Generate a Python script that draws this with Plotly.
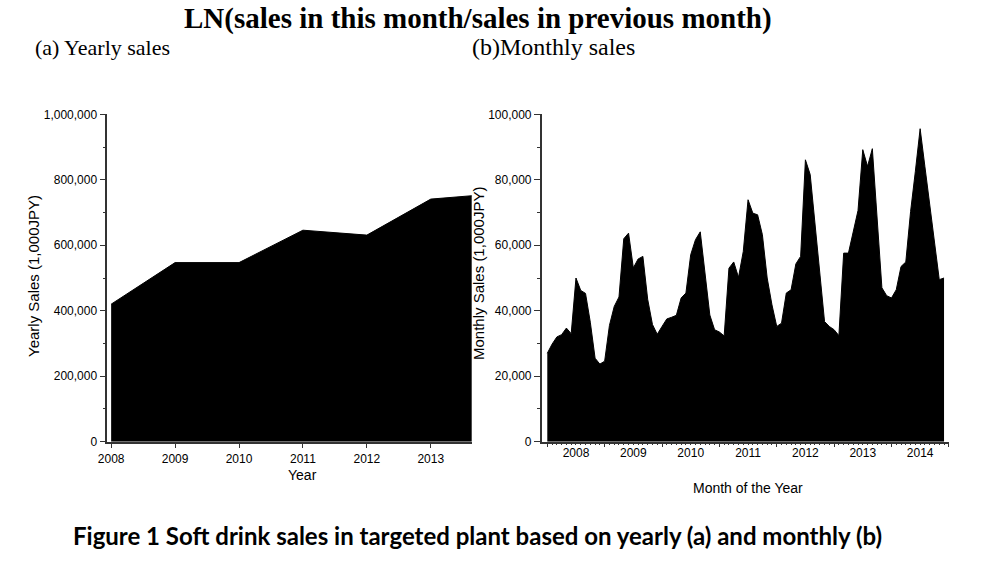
import plotly.graph_objects as go

# ---------------- data ----------------
years = [2008, 2009, 2010, 2011, 2012, 2013, 2014]
yearly_sales = [420000, 547000, 547000, 646000, 631000, 741000, 757000]
yearly_tick_labels = ["2008", "2009", "2010", "2011", "2012", "2013"]

monthly_year_labels = ["2008", "2009", "2010", "2011", "2012", "2013", "2014"]
sales_2008 = [27000, 29800, 32000, 32700, 34700, 33000, 50000, 46200, 45300, 36500, 25500, 23700]
sales_2009 = [24600, 35500, 41300, 44200, 62000, 63700, 53100, 55800, 56600, 43500, 35800, 32800]
sales_2010 = [35200, 37500, 38000, 38600, 43900, 45400, 57100, 61700, 64100, 52000, 38700, 34200]
sales_2011 = [33500, 32300, 53000, 54900, 50200, 58100, 73900, 69800, 69300, 63200, 50000, 41800]
sales_2012 = [35200, 36200, 45400, 46400, 54300, 56600, 86100, 81600, 66600, 51600, 36700, 35200]
sales_2013 = [34200, 32400, 57600, 57600, 64200, 70600, 89200, 84100, 89500, 68000, 47000, 44600]
sales_2014 = [43900, 46400, 53500, 54900, 70300, 82600, 95600, 84000, 72800, 61200, 49500, 50000]
monthly_sales = sales_2008 + sales_2009 + sales_2010 + sales_2011 + sales_2012 + sales_2013 + sales_2014
month_index = list(range(len(monthly_sales)))

# ---------------- layout helpers ----------------
W, H = 989, 562


def px(x):
    return x / W


def py(y):
    return 1 - y / H


AX = "#333333"
TICKFONT = dict(family="Liberation Sans, Arial, sans-serif", size=12, color="#000")

fig = go.Figure()
fig.add_trace(go.Scatter(
    x=years, y=yearly_sales, mode="lines", fill="tozeroy",
    fillcolor="black", line=dict(color="black", width=1),
    xaxis="x", yaxis="y", hoverinfo="skip", showlegend=False))
fig.add_trace(go.Scatter(
    x=month_index, y=monthly_sales, mode="lines", fill="tozeroy",
    fillcolor="black", line=dict(color="black", width=1),
    xaxis="x2", yaxis="y2", hoverinfo="skip", showlegend=False))

n_months = len(monthly_sales)
month_ticks = list(range(n_months + 1))
month_ticktext = [monthly_year_labels[i // 12] if i % 12 == 6 else "" for i in month_ticks]
year_bounds = [i for i in month_ticks if i % 12 == 0]

axis_common = dict(showline=True, linecolor=AX, linewidth=1.5, ticks="outside",
                   tickcolor=AX, tickwidth=1.2, showgrid=False, zeroline=False,
                   tickfont=TICKFONT, automargin=False)

fig.update_layout(
    width=W, height=H, autosize=False, margin=dict(l=0, r=0, t=0, b=0, pad=0),
    paper_bgcolor="white", plot_bgcolor="white", showlegend=False,
    xaxis=dict(domain=[px(107.3), px(471.7)], range=[2007.94, 2013.64],
               tickmode="array", tickvals=years[:-1], ticktext=yearly_tick_labels,
               ticklen=5, anchor="y", **axis_common),
    yaxis=dict(domain=[py(441.7), py(114.3)], range=[0, 1000000],
               tickmode="array", tickvals=[0, 200000, 400000, 600000, 800000, 1000000],
               tickformat=",d", ticklen=6, anchor="x",
               minor=dict(tickmode="array", tickvals=[100000, 300000, 500000, 700000, 900000],
                          ticks="outside", ticklen=3, tickcolor=AX),
               **axis_common),
    xaxis2=dict(domain=[px(541.7), px(949.3)], range=[-1.17, 84.1],
                tickmode="array", tickvals=month_ticks, ticktext=month_ticktext,
                ticklen=2, anchor="y2", ticklabelstandoff=-3,
                minor=dict(tickmode="array", tickvals=year_bounds,
                           ticks="outside", ticklen=4, tickcolor=AX),
                **axis_common),
    yaxis2=dict(domain=[py(441.7), py(114.3)], range=[0, 100000],
                tickmode="array", tickvals=[0, 20000, 40000, 60000, 80000, 100000],
                tickformat=",d", ticklen=6, anchor="x2",
                minor=dict(tickmode="array", tickvals=[10000, 30000, 50000, 70000, 90000],
                           ticks="outside", ticklen=3, tickcolor=AX),
                **axis_common),
)

SANS = "Liberation Sans, Arial, sans-serif"
SERIF = "Liberation Serif, Times New Roman, serif"
annotations = [
    dict(text="<b>LN(sales in this month/sales in previous month)</b>", x=px(478), y=py(18),
         font=dict(family=SERIF, size=29, color="#000")),
    dict(text="(a) Yearly sales", x=px(33), y=py(47), xanchor="left",
         font=dict(family=SERIF, size=22, color="#000")),
    dict(text="(b)Monthly sales", x=px(470), y=py(47), xanchor="left",
         font=dict(family=SERIF, size=24, color="#000")),
    dict(text="Yearly Sales (1,000JPY)", x=px(33), y=py(276), textangle=-90,
         font=dict(family=SANS, size=15, color="#000")),
    dict(text="Monthly Sales (1,000JPY)", x=px(478), y=py(274), textangle=-90,
         font=dict(family=SANS, size=15, color="#000")),
    dict(text="Year", x=px(302), y=py(475),
         font=dict(family=SANS, size=14, color="#000")),
    dict(text="Month of the Year", x=px(748), y=py(488),
         font=dict(family=SANS, size=14, color="#000")),
    dict(text="<b>Figure 1 Soft drink sales in targeted plant based on yearly (a) and monthly (b)</b>",
         x=px(477), y=py(535),
         font=dict(family="Lato, sans-serif", size=24, color="#000")),
]
for a in annotations:
    a.setdefault("xanchor", "center")
    a.setdefault("yanchor", "middle")
    fig.add_annotation(xref="paper", yref="paper", showarrow=False, **a)

fig.write_html("out.html", config={"displayModeBar": False},
               post_script="document.body.style.margin='0px';")
